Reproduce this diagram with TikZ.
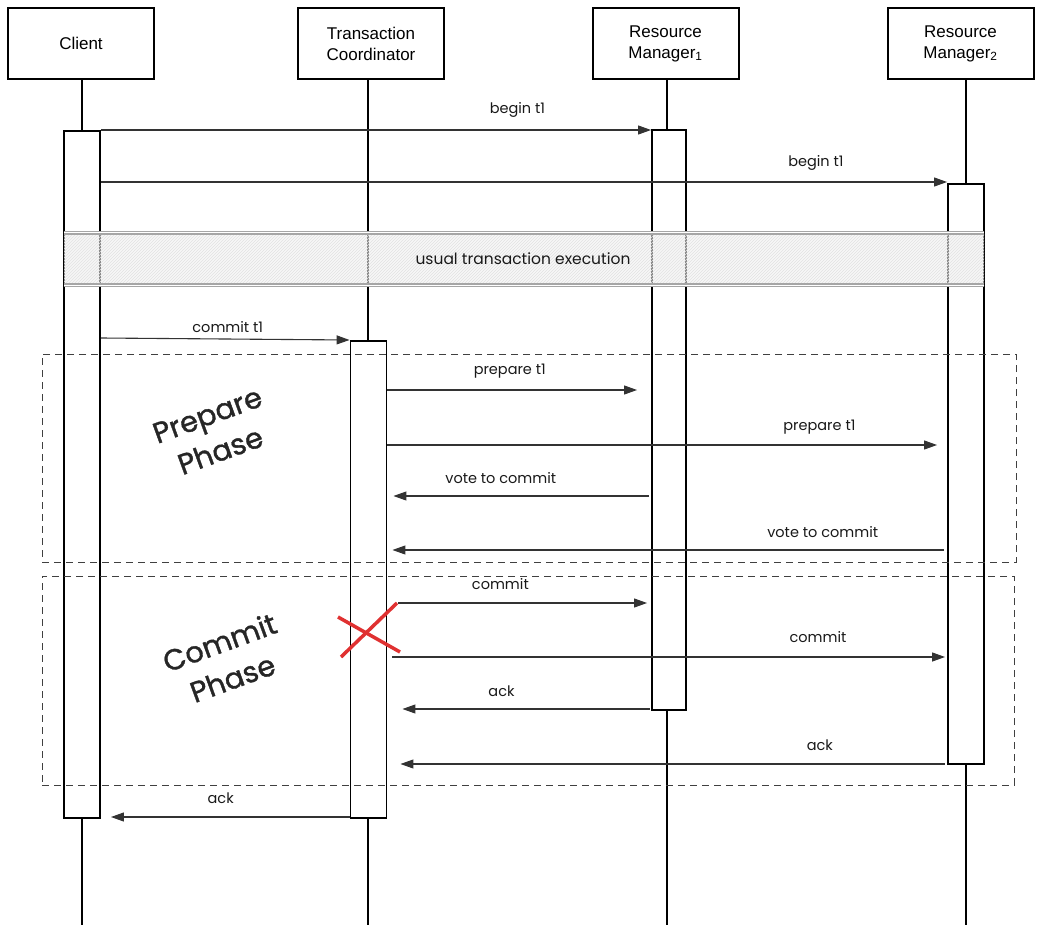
\documentclass[tikz,border=0pt]{standalone}
\usepackage{fontspec}
\setmainfont{Liberation Sans}
\newfontfamily\hand{Poppins}
\newfontfamily\handbold[FakeBold=1.2]{Poppins}
\usetikzlibrary{arrows.meta,calc,patterns}
\begin{document}
\begin{tikzpicture}[x=1pt,y=-1pt,
  part/.style={draw,line width=2pt,minimum width=146pt,minimum height=71pt,align=center,
    font=\fontsize{17}{21}\selectfont,inner sep=0pt},
  life/.style={line width=1.4pt},
  act/.style={draw,line width=1.9pt,fill=white,minimum width=36pt,anchor=north,inner sep=0pt},
  msg/.style={line width=1.1pt,draw=black!80,-{Triangle[length=13pt,width=9pt]}},
  lbl/.style={font=\hand\fontsize{14.5}{17}\selectfont,text=black!90,inner sep=0pt},
  frame/.style={draw=black!75,dashed,dash pattern=on 7pt off 5pt,line width=1pt},
  phase/.style={font=\handbold\fontsize{29}{38}\selectfont,align=center,rotate=20,text=black!85}
]
\useasboundingbox (0,0) rectangle (1042,934);

% participants
\node[part] (C)  at (81,43.5)  {Client};
\node[part] (TC) at (371,44)   {Transaction\\Coordinator};
\node[part] (R1) at (665.5,43.5) {Resource\\Manager\textsubscript{1}};
\node[part] (R2) at (960.5,43.5) {Resource\\Manager\textsubscript{2}};

% lifelines
\draw[life] ($(C.south)+(1,0)$)  -- ($(C.south |- 0,925)+(1,0)$);
\draw[life] ($(TC.south)+(-3,0)$) -- ($(TC.south |- 0,925)+(-3,0)$);
\draw[life] ($(R1.south)+(1.5,0)$) -- ($(R1.south |- 0,925)+(1.5,0)$);
\draw[life] ($(R2.south)+(5.5,0)$) -- ($(R2.south |- 0,925)+(5.5,0)$);

% activations
\node[act,minimum height=687pt] (aC)  at (82,130)  {};
\node[act,minimum height=477pt] (aTC) at (368.5,340) {};
\node[act,minimum height=580pt,minimum width=34pt] (aR1) at (669,129) {};
\node[act,minimum height=580pt] (aR2) at (966,183) {};

% band
\node[minimum width=920pt,minimum height=52pt,inner sep=0pt,fill=gray!12,fill opacity=0.6,
      pattern=north east lines,pattern color=gray!35] (band) at (524,259) {};
\fill[gray!12,opacity=0.55] (band.south west) rectangle (band.north east);
\draw[line width=1.3pt,draw=gray!70,double=white,double distance=1.2pt] (band.north west) -- (band.north east);
\draw[line width=1.3pt,draw=gray!70,double=white,double distance=1.2pt] (band.south west) -- (band.south east);
\node[lbl,font=\hand\fontsize{15.5}{18}\selectfont] (bandtxt) at (523,259) {usual transaction execution};

% frames
\node[frame,minimum width=974pt,minimum height=208pt,inner sep=0pt] (fP) at (529,458) {};
\node[frame,minimum width=972pt,minimum height=209pt,inner sep=0pt] (fC) at (528,680.5) {};
\node[phase] (pP) at (214,433) {Prepare\\Phase};
\node[phase] (pC) at (226,660) {Commit\\Phase};

% messages
\draw[msg] (aC.east |- 0,130) -- node[lbl,pos=0.757,yshift=20pt]{begin t1} (aR1.west |- 0,130);
\draw[msg] (aC.east |- 0,182) -- node[lbl,pos=0.845,yshift=19pt]{begin t1} (aR2.west |- 0,182);
\draw[msg] (aC.east |- 0,338) -- node[lbl,pos=0.51,yshift=12pt]{commit t1} (aTC.west |- 0,340);
\draw[msg] (aTC.east |- 0,390) -- node[lbl,pos=0.49,yshift=19pt]{prepare t1} ($(aR1.west |- 0,390)+(-14,0)$);
\draw[msg] (aTC.east |- 0,445) -- node[lbl,pos=0.786,yshift=18pt]{prepare t1} ($(aR2.west |- 0,445)+(-10,0)$);
\draw[msg] ($(aR1.west |- 0,496)+(-2,0)$) -- node[lbl,pos=0.58,yshift=18pt]{vote to commit} ($(aTC.east |- 0,496)+(6,0)$);
\draw[msg] ($(aR2.west |- 0,550)+(-3,0)$) -- node[lbl,pos=0.22,yshift=18pt]{vote to commit} ($(aTC.east |- 0,550)+(5,0)$);
\draw[msg] ($(aTC.east |- 0,603)+(11,0)$) -- node[lbl,pos=0.41,yshift=19pt]{commit} ($(aR1.west |- 0,603)+(-4,0)$);
\draw[msg] ($(aTC.east |- 0,657)+(5,0)$) -- node[lbl,pos=0.77,yshift=20pt]{commit} ($(aR2.west |- 0,657)+(-2,0)$);
\draw[msg] ($(aR1.west |- 0,709)+(-1,0)$) -- node[lbl,pos=0.6,yshift=18pt]{ack} ($(aTC.east |- 0,709)+(15,0)$);
\draw[msg] ($(aR2.west |- 0,764)+(-2,0)$) -- node[lbl,pos=0.23,yshift=19pt]{ack} ($(aTC.east |- 0,764)+(13,0)$);
\draw[msg] (aTC.west |- 0,817) -- node[lbl,pos=0.54,yshift=19pt]{ack} ($(aC.east |- 0,817)+(10,0)$);

% failure cross
\coordinate (x1) at (338,617); \coordinate (x2) at (400,652);
\coordinate (x3) at (397,603); \coordinate (x4) at (341,657);
\draw[line width=3.5pt,draw={rgb,255:red,224;green,49;blue,49}] (x1) -- (x2);
\draw[line width=3.5pt,draw={rgb,255:red,224;green,49;blue,49}] (x3) -- (x4);
\end{tikzpicture}
\end{document}
